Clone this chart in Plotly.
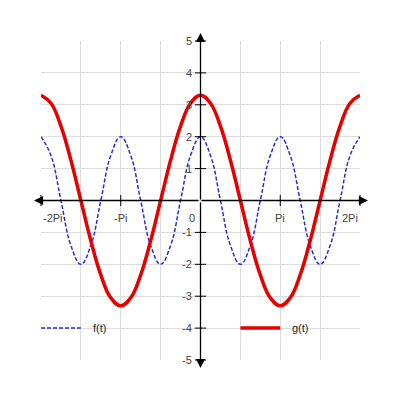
import numpy as np
from plotly import graph_objs as go

# t samples, in units of Pi
t_pi = [-2, -1.875, -1.75, -1.625, -1.5, -1.375, -1.25, -1.125,
        -1, -0.875, -0.75, -0.625, -0.5, -0.375, -0.25, -0.125,
        0, 0.125, 0.25, 0.375, 0.5, 0.625, 0.75, 0.875,
        1, 1.125, 1.25, 1.375, 1.5, 1.625, 1.75, 1.875, 2]
# f(t)
f_vals = [2, 1.41, 0, -1.41, -2, -1.41, 0, 1.41,
          2, 1.41, 0, -1.41, -2, -1.41, 0, 1.41,
          2, 1.41, 0, -1.41, -2, -1.41, 0, 1.41,
          2, 1.41, 0, -1.41, -2, -1.41, 0, 1.41, 2]
# g(t)
g_vals = [3.3, 3.05, 2.33, 1.26, 0, -1.26, -2.33, -3.05,
          -3.3, -3.05, -2.33, -1.26, 0, 1.26, 2.33, 3.05,
          3.3, 3.05, 2.33, 1.26, 0, -1.26, -2.33, -3.05,
          -3.3, -3.05, -2.33, -1.26, 0, 1.26, 2.33, 3.05, 3.3]

x_tick_pi = [-2, -1, 1, 2]
x_tick_labels = ["-2Pi", "-Pi", "Pi", "2Pi"]
y_ticks = [-5, -4, -3, -2, -1, 1, 2, 3, 4, 5]

t = np.array(t_pi) * np.pi
blue = "#2b2bd6"
red = "#e60000"
txt = "#444444"

fig = go.Figure()
fig.add_trace(go.Scatter(x=t, y=f_vals, mode="lines", name="f(t)",
                         line=dict(color=blue, width=1.5, dash="4px,2px", shape="spline", smoothing=1.2)))
fig.add_trace(go.Scatter(x=t, y=g_vals, mode="lines", name="g(t)",
                         line=dict(color=red, width=3.5, shape="spline", smoothing=1.2)))

# little tick marks on the axes
fig.add_trace(go.Scatter(x=np.array(x_tick_pi) * np.pi, y=[0] * len(x_tick_pi), mode="markers",
                         marker=dict(symbol="line-ns", size=8, line=dict(color="black", width=1)),
                         hoverinfo="skip", cliponaxis=False))
fig.add_trace(go.Scatter(x=[0] * len(y_ticks), y=y_ticks, mode="markers",
                         marker=dict(symbol="line-ew", size=8, line=dict(color="black", width=1)),
                         hoverinfo="skip", cliponaxis=False))

# axes with arrows (drawn over the curves)
arr = dict(showarrow=True, arrowhead=2, arrowsize=1.4, arrowwidth=1.3, arrowcolor="black", text="")
pw = 319
fig.add_annotation(x=-7 / pw, y=0, xref="paper", yref="y", ax=159 + 7, ay=0, **arr)
fig.add_annotation(x=1 + 8 / pw, y=0, xref="paper", yref="y", ax=-(160 + 8), ay=0, **arr)
fig.add_annotation(x=0, y=1 + 8 / pw, xref="x", yref="paper", ax=0, ay=160 + 8, **arr)
fig.add_annotation(x=0, y=-8 / pw, xref="x", yref="paper", ax=0, ay=-(159 + 8), **arr)

# tick labels
fnt = dict(family="Liberation Sans, Arial", size=11, color=txt)
for v, lab in zip(x_tick_pi, x_tick_labels):
    anchor = "left" if v == -2 else ("right" if v == 2 else "center")
    fig.add_annotation(x=v * np.pi, y=0, text=lab, showarrow=False, xanchor=anchor,
                       yanchor="top", yshift=-9, font=fnt)
fig.add_annotation(x=0, y=0, text="0", showarrow=False, xanchor="right", yanchor="top",
                   xshift=-4, yshift=-9, font=fnt)
for v in y_ticks:
    fig.add_annotation(x=0, y=v, text=str(v), showarrow=False, xanchor="right",
                       xshift=-7, font=fnt)

# legend drawn inside the plot
fig.add_shape(type="line", xref="x", yref="y", x0=-2 * np.pi, x1=-1.5 * np.pi, y0=-4, y1=-4,
              line=dict(color=blue, width=1.5, dash="4px,2px"))
fig.add_annotation(x=-1.5 * np.pi, y=-4, text="f(t)", showarrow=False, xanchor="left",
                   xshift=10, font=dict(family="Liberation Sans, Arial", size=11, color="#222"))
fig.add_shape(type="line", xref="x", yref="y", x0=0.5 * np.pi, x1=np.pi, y0=-4, y1=-4,
              line=dict(color=red, width=3.5))
fig.add_annotation(x=np.pi, y=-4, text="g(t)", showarrow=False, xanchor="left",
                   xshift=10, font=dict(family="Liberation Sans, Arial", size=11, color="#222"))

fig.update_xaxes(range=[-2 * np.pi, 2 * np.pi], tickvals=np.arange(-4, 5) * np.pi / 2,
                 showticklabels=False, showgrid=True, gridcolor="#dddddd", gridwidth=1,
                 zeroline=False, showline=False, mirror=False, fixedrange=True)
fig.update_yaxes(range=[-5, 5], tickvals=list(range(-5, 6)), showticklabels=False,
                 showgrid=True, gridcolor="#dddddd", gridwidth=1, zeroline=False, fixedrange=True)
# page body has an 8px margin, so shift the plot area up/left by that much
fig.update_layout(width=400, height=400, margin=dict(l=33, r=48, t=33, b=48),
                  plot_bgcolor="white", paper_bgcolor="white", showlegend=False)

fig.write_html("out.html", config={"displayModeBar": False})
